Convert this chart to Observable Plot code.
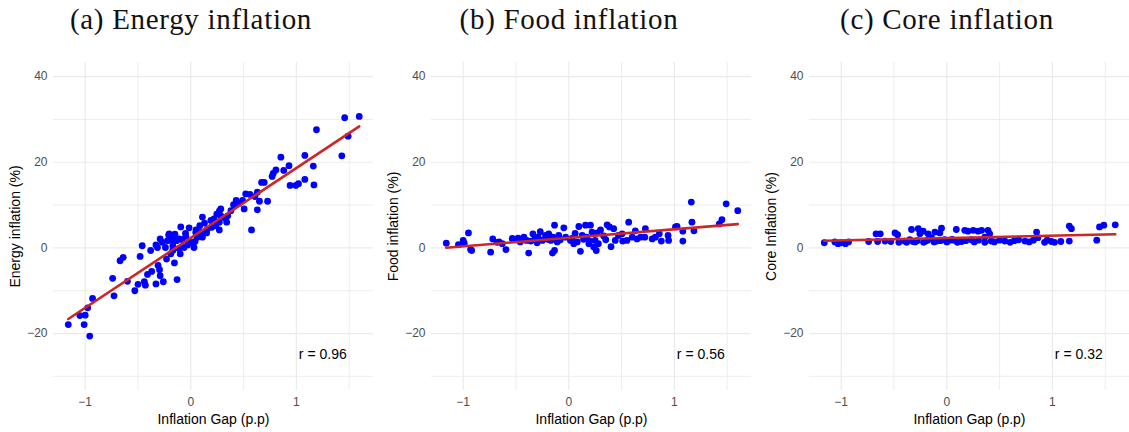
<!DOCTYPE html>
<html>
<head>
<meta charset="utf-8">
<script src="https://cdn.jsdelivr.net/npm/d3@7"></script>
<script src="https://cdn.jsdelivr.net/npm/@observablehq/plot@0.6"></script>
<style>
  body { margin: 0; background: #fff; }
  #figure { position: relative; width: 1129px; height: 432px; overflow: hidden; background: #fff; }
  .panel { position: absolute; top: 0; }
  .title {
    font-family: "Liberation Serif", "Times New Roman", serif;
    font-size: 29px; letter-spacing: 0.7px; line-height: 28px;
    text-align: center; width: 382px; height: 50px;
    padding-top: 5px; box-sizing: border-box; color: #111;
  }
  .panel svg { display: block; }
</style>
</head>
<body>
<div id="figure"></div>
<script>
// Inflation gap (p.p) against energy inflation (%)
const energyGap = [
  -1.16, -1.05, -1.01, -1.00, -0.976, -0.957, -0.93, -0.74, -0.727, -0.67,
  -0.64, -0.60, -0.53, -0.50, -0.48, -0.46, -0.44, -0.43, -0.41, -0.38,
  -0.37, -0.33, -0.33, -0.316, -0.31, -0.296, -0.29, -0.29, -0.27, -0.26,
  -0.24, -0.23, -0.22, -0.21, -0.205, -0.19, -0.19, -0.17, -0.17, -0.17,
  -0.15, -0.16, -0.155, -0.135, -0.13, -0.11, -0.11, -0.10, -0.095, -0.08,
  -0.063, -0.05, -0.047, -0.03, -0.016, 0.0, 0.03, 0.04, 0.047, 0.05,
  0.063, 0.085, 0.095, 0.11, 0.11, 0.13, 0.15, 0.158, 0.19, 0.20,
  0.22, 0.237, 0.246, 0.27, 0.27, 0.27, 0.284, 0.284, 0.32, 0.34,
  0.35, 0.38, 0.405, 0.43, 0.45, 0.49, 0.505, 0.52, 0.56, 0.575,
  0.607, 0.63, 0.63, 0.65, 0.67, 0.695, 0.727, 0.77, 0.78, 0.806,
  0.853, 0.88, 0.93, 0.94, 0.995, 1.02, 1.08, 1.08, 1.16, 1.166,
  1.19, 1.43, 1.457, 1.49, 1.595
];
const energyInflation = [
  -17.9, -15.8, -17.9, -15.7, -14.0, -20.6, -11.8, -7.1, -11.2, -3.0,
  -2.2, -7.8, -10.0, -8.5, -2.0, 0.5, -7.9, -8.7, -6.2, -0.6,
  -5.5, -8.4, 0.7, 0.1, -4.1, -5.1, -6.5, 2.1, 1.3, -7.9,
  0.1, -2.6, 1.7, 3.0, 3.3, 1.9, -1.4, 0.5, -0.6, 2.9,
  3.2, 1.7, -3.5, 1.7, -7.4, 2.1, -0.2, -1.4, 4.9, 1.9,
  0.1, 3.4, 2.7, 0.7, 4.7, 1.3, 0.1, 1.5, 3.6, 4.2,
  2.5, 5.2, 3.6, 2.5, 7.2, 5.8, 3.5, 4.4, 6.4, 4.8,
  6.8, 5.2, 7.9, 4.2, 6.0, 8.6, 9.1, 7.5, 7.0, 6.0,
  7.5, 8.7, 10.1, 11.1, 10.3, 11.1, 9.1, 12.6, 12.5, 4.2,
  12.0, 13.0, 8.9, 10.9, 15.3, 15.3, 10.9, 16.7, 17.4, 18.2,
  21.2, 18.1, 19.2, 14.6, 14.6, 15.0, 16.0, 21.6, 19.1, 14.7,
  27.6, 21.5, 30.4, 26.1, 30.7
];

// Inflation gap (p.p) against food inflation (%)
const foodGap = [
  -1.16, -1.045, -1.0, -0.99, -0.95, -0.93, -0.92, -0.74, -0.72, -0.68,
  -0.66, -0.63, -0.595, -0.535, -0.53, -0.48, -0.46, -0.43, -0.425, -0.40,
  -0.38, -0.36, -0.34, -0.324, -0.30, -0.29, -0.27, -0.25, -0.22, -0.20,
  -0.19, -0.17, -0.155, -0.15, -0.135, -0.135, -0.11, -0.095, -0.08, -0.047,
  -0.03, 0.016, 0.03, 0.047, 0.06, 0.08, 0.095, 0.11, 0.127, 0.14,
  0.158, 0.17, 0.19, 0.20, 0.205, 0.22, 0.236, 0.25, 0.26, 0.27,
  0.28, 0.30, 0.33, 0.35, 0.363, 0.385, 0.40, 0.425, 0.44, 0.47,
  0.505, 0.51, 0.55, 0.567, 0.60, 0.63, 0.646, 0.68, 0.72, 0.725,
  0.79, 0.82, 0.857, 0.876, 0.94, 0.945, 1.01, 1.025, 1.08, 1.08,
  1.16, 1.166, 1.185, 1.425, 1.45, 1.49, 1.60
];
const foodInflation = [
  1.1, 0.75, 1.75, 1.1, 3.5, -0.4, -0.6, -1.0, 2.1, 1.3,
  1.4, 1.0, -0.4, 2.2, 2.0, 2.3, 1.4, 1.9, 2.5, 1.75,
  -1.2, 1.6, 3.3, 1.9, 1.2, 2.5, 3.8, 1.75, 2.9, 2.0,
  3.3, 1.75, -1.2, 2.5, 5.3, -0.6, 1.4, 2.9, 1.9, 4.7,
  2.5, 1.75, 2.2, 1.0, 3.4, 1.4, 5.0, -0.8, 2.9, 2.0,
  5.3, 2.5, 1.0, 1.6, 5.3, 3.7, 0.2, 1.75, -0.6, 3.5,
  1.0, 4.2, 2.8, 1.9, 5.4, 4.9, 0.3, 4.5, 1.75, 2.9,
  3.3, 1.6, 1.75, 6.0, 2.5, 4.0, 2.1, 2.5, 2.5, 4.5,
  2.1, 2.5, 3.3, 1.6, 2.9, 1.75, 4.9, 5.0, 3.9, 1.6,
  10.7, 6.0, 4.0, 5.6, 6.6, 10.3, 8.7
];

// Inflation gap (p.p) against core inflation (%)
const coreGap = [
  -1.16, -1.06, -1.03, -1.0, -0.96, -0.93, -0.74, -0.67, -0.655, -0.63,
  -0.585, -0.53, -0.49, -0.466, -0.454, -0.40, -0.38, -0.35, -0.334, -0.32,
  -0.30, -0.28, -0.27, -0.255, -0.224, -0.22, -0.20, -0.18, -0.177, -0.145,
  -0.12, -0.113, -0.097, -0.066, -0.06, -0.05, -0.02, 0.0, 0.012, 0.05,
  0.06, 0.09, 0.10, 0.14, 0.17, 0.18, 0.20, 0.233, 0.25, 0.26,
  0.296, 0.30, 0.33, 0.36, 0.36, 0.39, 0.406, 0.42, 0.45, 0.50,
  0.55, 0.60, 0.64, 0.68, 0.74, 0.78, 0.82, 0.85, 0.863, 0.926,
  0.95, 0.99, 1.02, 1.08, 1.16, 1.18, 1.16, 1.42, 1.446, 1.487,
  1.595
];
const coreInflation = [
  1.2, 1.4, 1.0, 1.2, 1.0, 1.4, 1.5, 3.3, 1.5, 3.3,
  1.6, 1.5, 3.5, 3.1, 1.3, 1.6, 1.3, 1.9, 4.3, 1.5,
  1.4, 1.7, 4.5, 3.3, 3.9, 1.3, 1.6, 1.8, 3.3, 2.4,
  1.4, 3.7, 1.6, 3.5, 1.7, 4.6, 1.9, 1.4, 1.6, 2.0,
  1.8, 4.3, 1.3, 1.5, 4.1, 1.7, 3.9, 1.9, 4.1, 1.4,
  3.9, 1.8, 4.1, 2.5, 1.3, 4.1, 3.3, 1.6, 1.4, 1.8,
  1.6, 1.3, 1.7, 1.9, 1.6, 1.4, 1.8, 3.7, 2.4, 1.3,
  1.8, 1.5, 1.3, 1.5, 5.1, 4.5, 1.6, 1.8, 4.9, 5.3,
  5.4
];

// Shared scales, ticks and grid positions
const xDomain = [-1.3, 1.73];
const yDomain = [-33.3, 43.3];
const xTicks = [-1, 0, 1];
const yTicks = [-20, 0, 20, 40];
const xMinor = [-0.5, 0.5, 1.5];
const yMinor = [-30, -10, 10, 30];
const xLabel = "Inflation Gap (p.p)";
// Where the correlation note sits, in data units
const noteX = 1.25;
const noteY = -25;

// Tick labels with a true minus sign
const tickFormat = d => (d < 0 ? "\u2212" + Math.abs(d) : String(d));

const panels = [
  {left: 0,   width: 376, marginRight: 3, title: "(a) Energy inflation", yLabel: "Energy inflation (%)", gap: energyGap, values: energyInflation, r: "0.96"},
  {left: 378, width: 376, marginRight: 3, title: "(b) Food inflation",   yLabel: "Food inflation (%)",   gap: foodGap,   values: foodInflation,   r: "0.56"},
  {left: 756, width: 373, marginRight: 0, title: "(c) Core inflation",   yLabel: "Core Inflation (%)",   gap: coreGap,   values: coreInflation,   r: "0.32"}
];

const figure = document.getElementById("figure");
const sans = "'Liberation Sans', Arial, Helvetica, sans-serif";
const gridColor = "#ebebeb";

for (const p of panels) {
  const data = p.gap.map((g, i) => ({gap: g, value: p.values[i]}));
  const chart = Plot.plot({
    width: p.width,
    height: 382,
    marginTop: 12,
    marginBottom: 42,
    marginLeft: 53,
    marginRight: p.marginRight,
    style: {fontFamily: sans, background: "white", overflow: "visible", color: "#4d4d4d"},
    x: {domain: xDomain},
    y: {domain: yDomain},
    marks: [
      Plot.ruleX(xMinor, {stroke: gridColor, strokeWidth: 0.9}),
      Plot.ruleY(yMinor, {stroke: gridColor, strokeWidth: 0.9}),
      Plot.ruleX(xTicks, {stroke: gridColor, strokeWidth: 1.2}),
      Plot.ruleY(yTicks, {stroke: gridColor, strokeWidth: 1.2}),
      Plot.axisX(xTicks, {tickSize: 0, tickPadding: 7, fontSize: 12, color: "#4d4d4d", label: null, tickFormat}),
      Plot.axisY(yTicks, {tickSize: 0, tickPadding: 6, fontSize: 12, color: "#4d4d4d", label: null, tickFormat}),
      Plot.text([xLabel], {frameAnchor: "bottom", dy: 29, lineAnchor: "middle", fontSize: 14, fill: "black", text: d => d}),
      Plot.text([p.yLabel], {frameAnchor: "left", dx: -38, rotate: -90, textAnchor: "middle", lineAnchor: "middle", fontSize: 14, fill: "black", text: d => d}),
      Plot.dot(data, {x: "gap", y: "value", r: 3.4, fill: "#0000ff", stroke: "none"}),
      Plot.linearRegressionY(data, {x: "gap", y: "value", stroke: "#cd2626", strokeWidth: 2.6, ci: 0}),
      Plot.text([p.r], {x: noteX, y: noteY, text: d => `r = ${d}`, fontSize: 14, fill: "black", textAnchor: "middle", lineAnchor: "middle"})
    ]
  });

  const wrap = document.createElement("div");
  wrap.className = "panel";
  wrap.style.left = p.left + "px";
  const title = document.createElement("div");
  title.className = "title";
  title.textContent = p.title;
  wrap.appendChild(title);
  wrap.appendChild(chart);
  figure.appendChild(wrap);
}
</script>
</body>
</html>
